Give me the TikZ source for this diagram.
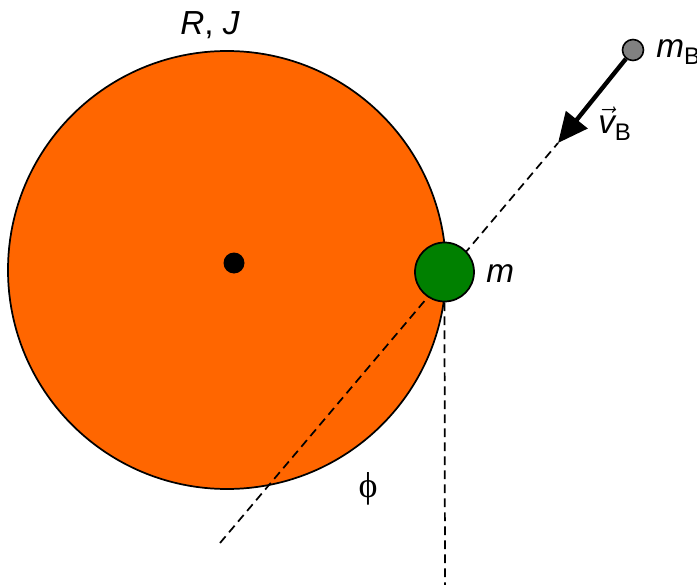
\documentclass[tikz,border=0pt]{standalone}
\usepackage{fontspec}
\setmainfont{Liberation Sans}
\newfontfamily\greekserif{Liberation Serif}
\usetikzlibrary{arrows.meta}
\begin{document}
\begin{tikzpicture}[x=0.75pt,y=-0.75pt,
  lbl/.style={inner sep=0pt, font=\fontsize{25}{30}\selectfont},
  dashline/.style={dashed, dash pattern=on 6.5pt off 4pt, line width=1.3pt},
  disk/.style={circle, draw=black, line width=1.3pt, inner sep=0pt}]
\useasboundingbox (0,0) rectangle (697,585);
% big disk
\node[disk, fill={rgb,255:red,255;green,102;blue,0}, minimum size=438*0.75pt] (wheel) at (227,270) {};
\node[circle, fill=black, inner sep=0pt, minimum size=21*0.75pt] (axis) at (234,263) {};
% dashed lines
\coordinate (lstart) at (220,543);
\coordinate (tip) at (558,143);
\draw[dashline] (lstart) -- (tip);
% bullet ball
\node[disk, fill={rgb,255:red,128;green,128;blue,128}, minimum size=21*0.75pt, line width=1.2pt] (ball) at (633,50) {};
\draw[line width=3.3pt, -{Triangle[length=30*0.75pt, width=27*0.75pt]}] (ball) -- (tip);
% green mass
\node[disk, fill={rgb,255:red,0;green,128;blue,0}, minimum size=59*0.75pt] (mass) at (444.5,272) {};
\coordinate (vbottom) at (445,585);
\draw[dashline] (mass.south) -- (vbottom);
% labels
\node[lbl, anchor=base] (RJ) at (210,35) {\itshape R\upshape, \itshape J};
\node[lbl, anchor=base west] (mlbl) at (486,282) {\itshape m};
\node[lbl, anchor=base west] (mBlbl) at (656,58) {\itshape m\upshape\fontsize{18}{20}\selectfont\raisebox{-5pt}{B}};
\node[lbl, anchor=base west] (vBlbl) at (598,134) {$\vec{\mbox{\itshape v}}$\fontsize{18}{20}\selectfont\raisebox{-5pt}{B}};
\node[lbl, anchor=base, font=\greekserif\fontsize{27}{30}\selectfont] (phi) at (368,497) {ϕ};
\end{tikzpicture}
\end{document}
